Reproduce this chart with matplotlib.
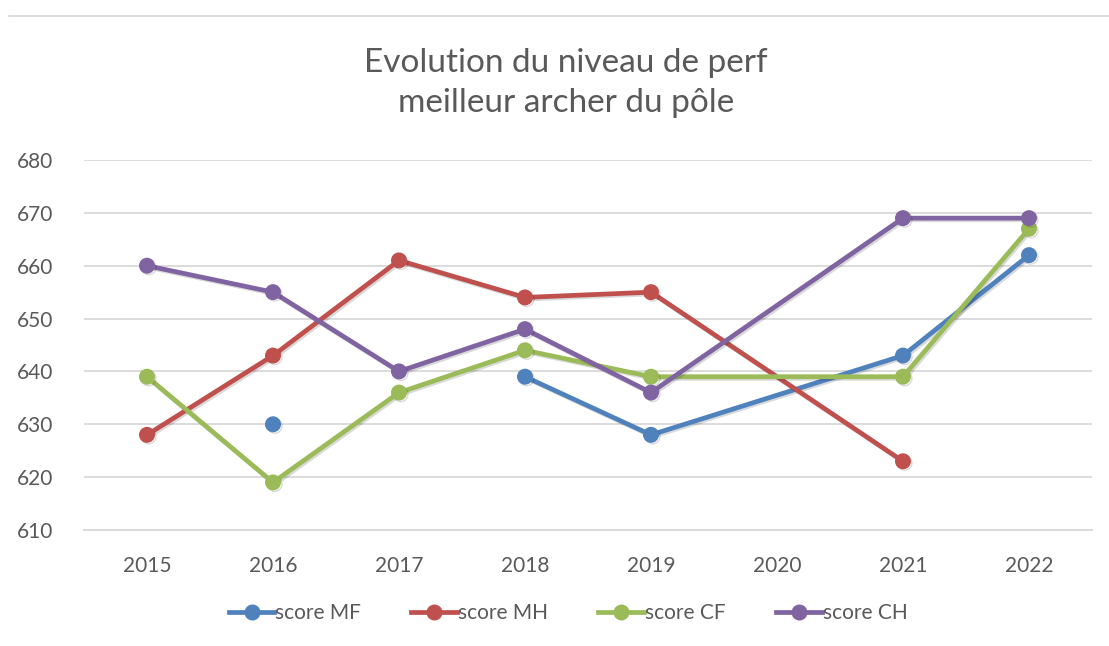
import numpy as np
import matplotlib
matplotlib.use("Agg")
import matplotlib.pyplot as plt
import matplotlib.patheffects as pe
from matplotlib.lines import Line2D

years = ["2015", "2016", "2017", "2018", "2019", "2020", "2021", "2022"]
score_MF = [None, 630, None, 639, 628, None, 643, 662]
score_MH = [628, 643, 661, 654, 655, None, 623, None]
score_CF = [639, 619, 636, 644, 639, None, 639, 667]
score_CH = [660, 655, 640, 648, 636, None, 669, 669]
series_names = ["score MF", "score MH", "score CF", "score CH"]
colors = ["#4F81BD", "#C0504D", "#9BBB59", "#8064A2"]
title = "Evolution du niveau de perf\nmeilleur archer du pôle"
yticks = [610, 620, 630, 640, 650, 660, 670, 680]

plt.rcParams['font.family'] = ['Lato', 'DejaVu Sans']
txt = "#595959"

fig = plt.figure(figsize=(11.09, 6.46), dpi=100)
ax = fig.add_axes([84/1109, 1-530/646, (1092-84)/1109, (530-160)/646])

# years where all series are empty are skipped (lines connect across them)
keep = [i for i in range(len(years))
        if any(s[i] is not None for s in (score_MF, score_MH, score_CF, score_CH))]

shadow = [pe.SimpleLineShadow(offset=(1.2, -1.2), shadow_color="#000000", alpha=0.15),
          pe.Normal()]

for vals, name, col in zip((score_MF, score_MH, score_CF, score_CH), series_names, colors):
    x = np.array(keep, dtype=float)
    y = np.array([np.nan if vals[i] is None else vals[i] for i in keep], dtype=float)
    ax.plot(x, y, color=col, lw=3.4, marker="o", markersize=10.5,
            solid_capstyle="round", path_effects=shadow, zorder=3, label=name)

ax.set_xlim(-0.5, len(years) - 0.5)
ax.set_ylim(610, 680)
ax.set_xticks(range(len(years)))
ax.set_xticklabels(years)
ax.set_yticks(yticks)
ax.grid(axis="y", color="#D9D9D9", lw=1.3)
ax.set_axisbelow(True)
for s in ["top", "right", "left"]:
    ax.spines[s].set_visible(False)
ax.spines["bottom"].set_color("#D9D9D9")
ax.spines["bottom"].set_linewidth(1.3)
ax.tick_params(axis="both", length=0, labelsize=15, colors=txt)
ax.tick_params(axis="x", pad=19)
ax.tick_params(axis="y", pad=22)

fig.text(566/1109, 1-83/646, title, ha="center", va="center", fontsize=24,
         color=txt, linespacing=1.38)

handles = [Line2D([0], [0], color=c, lw=3.4, marker="o", markersize=10.5) for c in colors]
fig.legend(handles, series_names, loc="center", bbox_to_anchor=(568/1109, 1-613/646),
           ncol=4, frameon=False, fontsize=15, labelcolor=txt, handlelength=2.2,
           handletextpad=0.05, columnspacing=2.4)

fig.add_artist(Line2D([9/1109, 1.0], [1-16/646, 1-16/646], color="#D9D9D9", lw=1.3))

fig.savefig("out.png", dpi=100, facecolor="white")
